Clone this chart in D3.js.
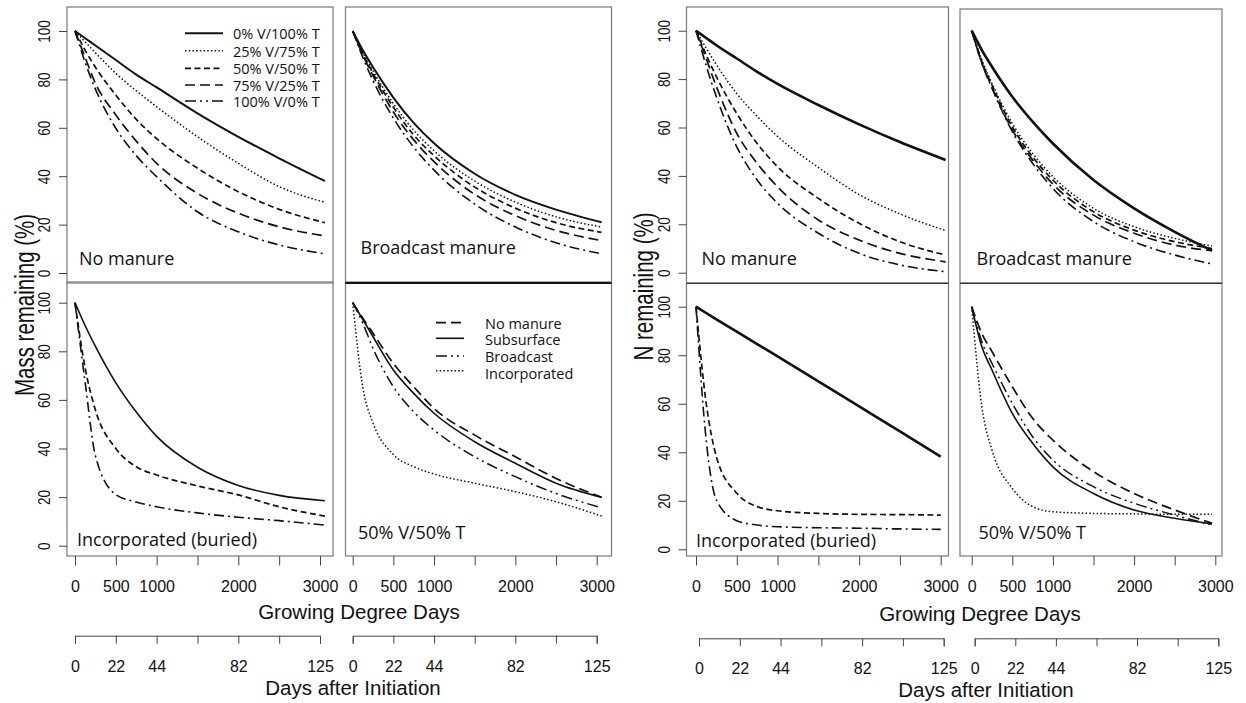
<!DOCTYPE html>
<html lang="en">
<head>
<meta charset="utf-8">
<title>Mass and N remaining</title>
<script src="https://cdn.jsdelivr.net/npm/d3@7"></script>
<style>
  body { margin: 0; background: #fff; }
  text { fill: #111; }
  .axis text { font-family: "Liberation Sans", Arial, sans-serif; }
  .lab { font-family: "Open Sans", "Noto Sans", sans-serif; }
</style>
</head>
<body>
<svg id="chart" width="1246" height="703"></svg>
<script>

// ---- data ----
const gdd      = [0, 125, 250, 500, 750, 1000, 1500, 2000, 2500, 3060];
const gdd3000  = [0, 125, 250, 500, 750, 1000, 1500, 2000, 2500, 3000];
const gdd2960  = [0, 125, 250, 500, 750, 1000, 1500, 2000, 2500, 2960];

const gddTicks      = [0, 500, 1000, 1500, 2000, 2500, 3000];
const gddTickLabels = ["0", "500", "1000", "", "2000", "", "3000"];
const dayTickLabels = ["0", "22", "44", "", "82", "", "125"];
const yTicks        = [0, 20, 40, 60, 80, 100];

const ratioNames     = ["0% V/100% T", "25% V/75% T", "50% V/50% T", "75% V/25% T", "100% V/0% T"];
const placementNames = ["No manure", "Subsurface", "Broadcast", "Incorporated"];

// mass remaining, no manure
const massNM0   = [100, 97, 94, 88, 82, 76.7, 66, 56.3, 47.4, 38];
const massNM25  = [100, 95.5, 91, 82.5, 75.3, 68.7, 56.3, 45.3, 35.7, 29.2];
const massNM50  = [100, 92, 85, 73.5, 63.5, 55.5, 43.3, 33.6, 26.3, 20.8];
const massNM75  = [100, 89, 78.4, 65.3, 54.5, 45.3, 32.9, 24.7, 19.1, 15.3];
const massNM100 = [100, 87, 76, 59.8, 48.5, 39.8, 25.3, 17, 11.6, 7.9];
// mass remaining, broadcast manure
const massBC0   = [100, 92, 85, 72.5, 62, 53.6, 41, 32.3, 26.2, 21];
const massBC25  = [100, 91, 83.5, 70, 59, 50.5, 38, 29.3, 23.2, 19];
const massBC50  = [100, 90.5, 82.5, 68.5, 57, 48.5, 35.5, 26.8, 20.8, 16.8];
const massBC75  = [100, 90, 81.5, 66.5, 55, 46, 32.5, 23.7, 17.6, 13.4];
const massBC100 = [100, 89, 79.5, 64, 52, 42.5, 28.5, 19, 12.5, 7.9];
// mass remaining, incorporated
const massIN0   = [100, 90.5, 82, 67, 55, 45, 32.3, 24.8, 20.7, 18.5];
const massIN50  = [100, 73, 55.8, 40, 32.5, 29.1, 24.6, 20.9, 16, 12.2];
const massIN100 = [100, 67, 37, 21, 18, 16, 13.5, 11.7, 10.3, 8.5];
// mass remaining, 50% V / 50% T by placement
const mass50NM  = [100, 93.6, 87.4, 75, 65.4, 56.5, 45.5, 36.6, 27.7, 19.9];
const mass50SS  = [100, 93.1, 86, 72.3, 62.7, 54.5, 42.8, 33.9, 25.7, 19.9];
const mass50BC  = [100, 91.5, 81.2, 65.4, 55.1, 47.6, 36.6, 28.4, 21.5, 15.6];
const mass50IN  = [100, 65, 50.5, 37.5, 32.5, 29.5, 25.7, 22.2, 18.1, 12.2];

// N remaining, no manure
const nNM0   = [100, 97, 94, 88.5, 83, 78, 69.3, 61.3, 54, 46.6];
const nNM25  = [100, 92.8, 86, 74, 64.6, 56.3, 43.5, 32.3, 24.3, 17.4];
const nNM50  = [100, 90, 81, 65.8, 53.4, 43.8, 30.7, 20.4, 12.8, 7.3];
const nNM75  = [100, 88.4, 76.9, 57.6, 45.2, 35.5, 21.8, 13.5, 8, 4.5];
const nNM100 = [100, 85.5, 72.7, 52, 38.3, 28.7, 16.3, 8, 3.2, 0.4];
// N remaining, broadcast manure
const nBC0   = [100, 92, 85.1, 72.7, 62.4, 53.4, 38.3, 26.6, 16.9, 9.1];
const nBC25  = [100, 87.9, 78.2, 61.7, 49.3, 39.7, 26.6, 19, 14.2, 11];
const nBC50  = [100, 87.2, 77.5, 60.3, 47.9, 38.3, 25.2, 17.6, 12.8, 10];
const nBC75  = [100, 86.8, 76.6, 59, 46.6, 36.6, 23.8, 16.3, 11.4, 9.1];
const nBC100 = [100, 86.5, 76.2, 58.3, 45.2, 34.8, 21.1, 12.8, 7.3, 3.6];
// N remaining, incorporated
const nIN0   = [100, 97.4, 94.8, 89.7, 84.6, 79.5, 69.2, 58.9, 48.6, 38.2];
const nIN50  = [100, 60.2, 38.2, 23.1, 17.6, 15.9, 14.8, 14.4, 14.3, 14.1];
const nIN100 = [100, 45, 20.3, 11.8, 10, 9.3, 8.9, 8.7, 8.4, 8.2];
// N remaining, 50% V / 50% T by placement
const n50NM  = [100, 89, 81.5, 67, 54, 45, 32, 23, 16.2, 10.7];
const n50SS  = [100, 83.5, 73.9, 56, 43.7, 34, 23, 16.2, 12.8, 10.4];
const n50BC  = [100, 85.6, 76.6, 60.2, 46.4, 36.8, 25.8, 19, 14.1, 10];
const n50IN  = [100, 58.8, 40.9, 25.1, 17.6, 15.5, 14.8, 14.6, 14.4, 14.4];

// ---- line styles ----
const styles = {
  solid:    { w: 2,   dash: null },
  solidN:   { w: 2.6, dash: null },
  solidT:   { w: 1.6, dash: null },
  dotted:   { w: 1.5, dash: "1.5,2.2" },
  dash:     { w: 1.7, dash: "6,3.5" },
  longdash: { w: 1.7, dash: "10,5" },
  dotdash:  { w: 1.6, dash: "10,4,2,4" },
  twodot:   { w: 1.5, dash: "11,4,2,4,2,4" }
};

// ---- layout ----
const panels = [
  { box: [67, 7, 266, 276],   xr: [75, 320],     yr: [273, 31],     xs: gdd,     yaxis: true,  xaxis: false,
    label: "No manure", lab: [79, 265],
    series: [[massNM0, "solid"], [massNM25, "dotted"], [massNM50, "dash"], [massNM75, "longdash"], [massNM100, "dotdash"]] },
  { box: [345.5, 7, 266, 276], xr: [352.7, 596.7], yr: [273, 31],     xs: gdd,     yaxis: false, xaxis: false,
    label: "Broadcast manure", lab: [360.5, 253.5],
    series: [[massBC0, "solid"], [massBC25, "dotted"], [massBC50, "dash"], [massBC75, "longdash"], [massBC100, "dotdash"]] },
  { box: [67, 282, 266, 274],  xr: [75, 320],     yr: [545.7, 302.7], xs: gdd,     yaxis: true,  xaxis: true,
    label: "Incorporated (buried)", lab: [77, 546],
    series: [[massIN0, "solidT"], [massIN50, "dash"], [massIN100, "dotdash"]] },
  { box: [345.5, 282, 266, 274], xr: [352.7, 596.7], yr: [545.7, 302.7], xs: gdd,   yaxis: false, xaxis: true,
    label: "50% V/50% T", lab: [358, 538.5],
    series: [[mass50NM, "longdash"], [mass50SS, "solidT"], [mass50BC, "twodot"], [mass50IN, "dotted"]] },
  { box: [686.5, 7, 262, 276], xr: [696, 940.7],   yr: [272.7, 30.7], xs: gdd,     yaxis: true,  xaxis: false,
    label: "No manure", lab: [701.5, 265],
    series: [[nNM0, "solidN"], [nNM25, "dotted"], [nNM50, "dash"], [nNM75, "longdash"], [nNM100, "dotdash"]] },
  { box: [960, 9, 262, 274],   xr: [971.7, 1215.3], yr: [272.7, 30.7], xs: gdd2960, yaxis: false, xaxis: false,
    label: "Broadcast manure", lab: [976.5, 264.5],
    series: [[nBC0, "solidN"], [nBC25, "dotted"], [nBC50, "dash"], [nBC75, "longdash"], [nBC100, "dotdash"]] },
  { box: [686.5, 283, 262, 273], xr: [696, 940.7],  yr: [549.3, 306.7], xs: gdd3000, yaxis: true,  xaxis: true,
    label: "Incorporated (buried)", lab: [696, 547],
    series: [[nIN0, "solidN"], [nIN50, "dash"], [nIN100, "dotdash"]] },
  { box: [960, 283, 262, 273], xr: [971.7, 1215.3], yr: [549.3, 306.7], xs: gdd2960, yaxis: false, xaxis: true,
    label: "50% V/50% T", lab: [978.5, 539],
    series: [[n50NM, "longdash"], [n50SS, "solidT"], [n50BC, "twodot"], [n50IN, "dotted"]] }
];

const svg = d3.select("#chart");
svg.append("rect").attr("width", 1246).attr("height", 703).attr("fill", "#fff");

function styleLine(sel, key) {
  const s = styles[key];
  sel.attr("fill", "none").attr("stroke", "#111").attr("stroke-width", s.w)
     .attr("stroke-linejoin", "round");
  if (s.dash) sel.attr("stroke-dasharray", s.dash);
}

panels.forEach(p => {
  const x = d3.scaleLinear().domain([0, 3000]).range(p.xr);
  const y = d3.scaleLinear().domain([0, 100]).range(p.yr);
  const g = svg.append("g");

  g.append("rect")
    .attr("x", p.box[0]).attr("y", p.box[1]).attr("width", p.box[2]).attr("height", p.box[3])
    .attr("fill", "none").attr("stroke", "#7a7a7a").attr("stroke-width", 1.2);

  const line = d3.line().x((d, i) => x(p.xs[i])).y(d => y(d)).curve(d3.curveMonotoneX);
  p.series.forEach(([vals, st]) => {
    g.append("path").datum(vals).attr("d", line).call(styleLine, st);
  });

  g.append("text").attr("class", "lab")
    .attr("x", p.lab[0]).attr("y", p.lab[1])
    .attr("font-size", 18).text(p.label);

  if (p.yaxis) {
    const ax = g.append("g").attr("class", "axis")
      .attr("transform", `translate(${p.box[0]},0)`)
      .call(d3.axisLeft(y).tickValues(yTicks).tickSize(8));
    ax.select(".domain").remove();
    ax.selectAll(".tick line").attr("stroke", "#444");
    ax.selectAll(".tick text")
      .attr("x", null).attr("dy", null).attr("text-anchor", "middle")
      .attr("font-size", 13.5).attr("fill", "#111")
      .attr("transform", "translate(-17,0) rotate(-90) scale(1,1.22)");
  }

  if (p.xaxis) {
    const ax = g.append("g").attr("class", "axis")
      .attr("transform", `translate(0,${p.box[1] + p.box[3]})`)
      .call(d3.axisBottom(x).tickValues(gddTicks).tickFormat((d, i) => gddTickLabels[i])
        .tickSize(9.5).tickPadding(15.5));
    ax.select(".domain").remove();
    ax.selectAll(".tick line").attr("stroke", "#444");
    ax.selectAll(".tick text").attr("font-size", 16).attr("fill", "#111");

    // second scale: days after initiation
    const dayY = p.box[0] < 640 ? 635.7 : 638.3;
    const dx = p.box[0] < 640 ? 0 : 3;
    const xd = d3.scaleLinear().domain([0, 3000]).range([p.xr[0] + dx, p.xr[1] + dx]);
    const ad = g.append("g").attr("class", "axis")
      .attr("transform", `translate(0,${dayY})`)
      .call(d3.axisBottom(xd).tickValues(gddTicks).tickFormat((d, i) => dayTickLabels[i])
        .tickSizeInner(8).tickSizeOuter(8).tickPadding(16.5));
    ad.select(".domain").attr("stroke", "#444");
    ad.selectAll(".tick line").attr("stroke", "#444");
    ad.selectAll(".tick text").attr("font-size", 16).attr("fill", "#111");
  }
});

// heavier separator under the top-right mass panel
svg.append("line").attr("x1", 345.5).attr("x2", 611.5).attr("y1", 283).attr("y2", 283)
  .attr("stroke", "#111").attr("stroke-width", 2);
svg.append("line").attr("x1", 686.5).attr("x2", 948.5).attr("y1", 283.5).attr("y2", 283.5)
  .attr("stroke", "#333").attr("stroke-width", 1);
svg.append("line").attr("x1", 960).attr("x2", 1222).attr("y1", 283.5).attr("y2", 283.5)
  .attr("stroke", "#333").attr("stroke-width", 1);

// legends
const legRatio = svg.append("g");
ratioNames.forEach((name, i) => {
  const ly = [33.3, 50.7, 68.3, 85, 101][i];
  const key = ["solid", "dotted", "dash", "longdash", "twodot"][i];
  legRatio.append("line").attr("x1", 185).attr("x2", 223).attr("y1", ly).attr("y2", ly).call(styleLine, key);
  legRatio.append("text").attr("class", "lab").attr("x", 233).attr("y", [39.3, 56.7, 74, 91, 107.3][i])
    .attr("font-size", 14.5).text(name);
});
const legPlace = svg.append("g");
placementNames.forEach((name, i) => {
  const ly = [322.7, 338.3, 356, 370.7][i];
  const key = ["longdash", "solidT", "twodot", "dotted"][i];
  legPlace.append("line").attr("x1", 436).attr("x2", 464).attr("y1", ly).attr("y2", ly).call(styleLine, key);
  legPlace.append("text").attr("class", "lab").attr("x", 485).attr("y", [329.3, 345, 362.3, 379][i])
    .attr("font-size", 14.5).text(name);
});

// axis titles
const titleFont = "'Liberation Sans', Arial, sans-serif";
function title(txt, x, y, opts) {
  const t = svg.append("text").attr("font-family", titleFont).attr("font-size", 20.5)
    .attr("text-anchor", "middle").text(txt);
  if (opts && opts.rotate) t.attr("transform", `translate(${x},${y}) rotate(-90) scale(1,1.38)`);
  else t.attr("x", x).attr("y", y);
}
title("Mass remaining (%)", 34, 305, { rotate: true });
title("N remaining (%)", 653, 286.5, { rotate: true });
title("Growing Degree Days", 359, 619);
title("Growing Degree Days", 980, 621);
title("Days after Initiation", 353, 695);
title("Days after Initiation", 986, 697);
</script>
</body>
</html>
